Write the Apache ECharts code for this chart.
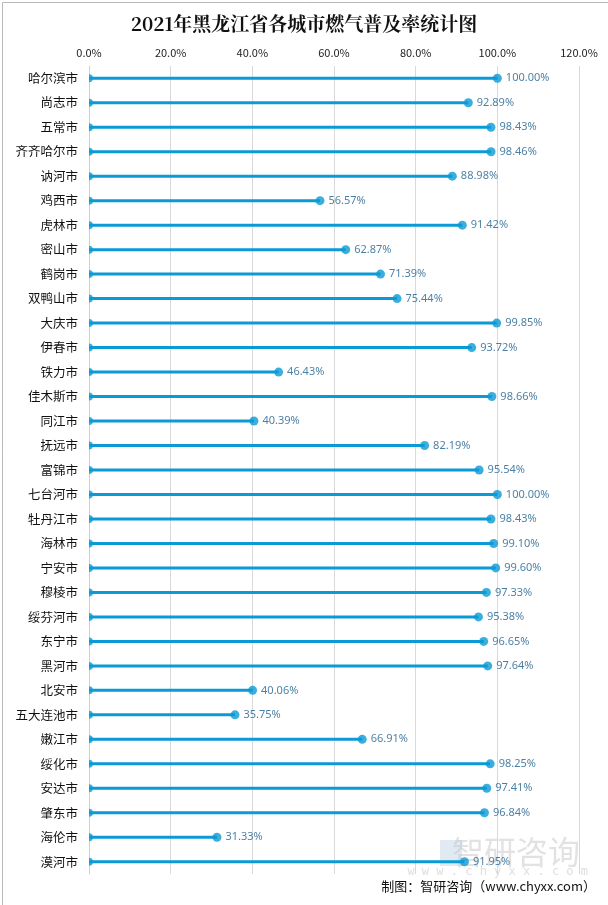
<!DOCTYPE html>
<html><head><meta charset="utf-8">
<script src="https://cdn.jsdelivr.net/npm/echarts@6/dist/echarts.min.js"></script>
<style>html,body{margin:0;padding:0;background:#fff}#c{width:608px;height:905px}</style>
</head><body><div id="c"></div>
<script>
const title = '2021年黑龙江省各城市燃气普及率统计图';
const cities = ['哈尔滨市','尚志市','五常市','齐齐哈尔市','讷河市','鸡西市','虎林市','密山市','鹤岗市','双鸭山市','大庆市','伊春市','铁力市','佳木斯市','同江市','抚远市','富锦市','七台河市','牡丹江市','海林市','宁安市','穆棱市','绥芬河市','东宁市','黑河市','北安市','五大连池市','嫩江市','绥化市','安达市','肇东市','海伦市','漠河市'];
const rates = [100.00,92.89,98.43,98.46,88.98,56.57,91.42,62.87,71.39,75.44,99.85,93.72,46.43,98.66,40.39,82.19,95.54,100.00,98.43,99.10,99.60,97.33,95.38,96.65,97.64,40.06,35.75,66.91,98.25,97.41,96.84,31.33,91.95];
const xTicks = [0,20,40,60,80,100,120];
const source = '制图：智研咨询（www.chyxx.com）';

const chart = echarts.init(document.getElementById('c'), null, {renderer:'canvas'});
const blue = '#0a9ad6';
chart.setOption({
  animation:false,
  title:{text:title,left:'center',top:9,textStyle:{fontFamily:'"Noto Serif CJK SC","Noto Sans CJK SC",serif',fontWeight:'bold',fontSize:19,color:'#111'}},
  grid:{left:89,right:29,top:66,bottom:31},
  xAxis:{type:'value',position:'top',min:xTicks[0],max:xTicks[xTicks.length-1],interval:20,
    axisLabel:{formatter:v=>v.toFixed(1)+'%',fontSize:11,color:'#222',margin:8,fontFamily:'"Noto Sans CJK SC",sans-serif'},
    axisLine:{show:false},axisTick:{show:false},
    splitLine:{show:true,lineStyle:{color:'#d9d9d9',width:1}}},
  yAxis:{type:'category',data:cities,inverse:true,
    axisLine:{show:true,lineStyle:{color:'#d0d0d0'}},axisTick:{show:false},
    axisLabel:{fontSize:12.5,color:'#111',margin:11,fontFamily:'"Noto Sans CJK SC",sans-serif'}},
  series:[
    {type:'bar',data:rates,barWidth:3,itemStyle:{color:blue},z:2},
    {type:'scatter',data:rates.map(()=>0),symbol:'path://M0,0 A5,5 0 0,1 0,10 Z',symbolSize:[4,8],symbolOffset:[2,0],itemStyle:{color:blue},z:3},
    {type:'scatter',data:rates,symbolSize:9,itemStyle:{color:blue},z:3,
      label:{show:true,position:'right',distance:4,formatter:p=>p.value.toFixed(2)+'%',fontSize:11,color:'#1c5f8c',fontFamily:'"Noto Sans","Liberation Sans",sans-serif'}}
  ],
  graphic:[
    {type:'rect',left:0,top:0,z:-1,shape:{x:0.5,y:0.5,width:607,height:904},style:{fill:null,stroke:'#b8b8b8',lineWidth:1}},
    {type:'text',right:28,top:836,z:0,style:{text:'智研咨询',fontSize:32,fill:'rgba(190,190,190,0.45)',fontFamily:'"Noto Sans CJK SC",sans-serif'}},
    {type:'rect',left:440,top:840,z:0,shape:{width:22,height:26},style:{fill:'rgba(180,200,225,0.4)'}},
    {type:'text',right:20,top:866,z:0,style:{text:'w w w . c h y x x . c o m',fontSize:12,fill:'rgba(190,190,190,0.5)',fontFamily:'"DejaVu Sans Mono",monospace'}},
    {type:'text',right:12,top:880,style:{text:source,fontSize:13,fill:'#111',fontFamily:'"Noto Sans CJK SC",sans-serif'}}
  ]
});
</script></body></html>
